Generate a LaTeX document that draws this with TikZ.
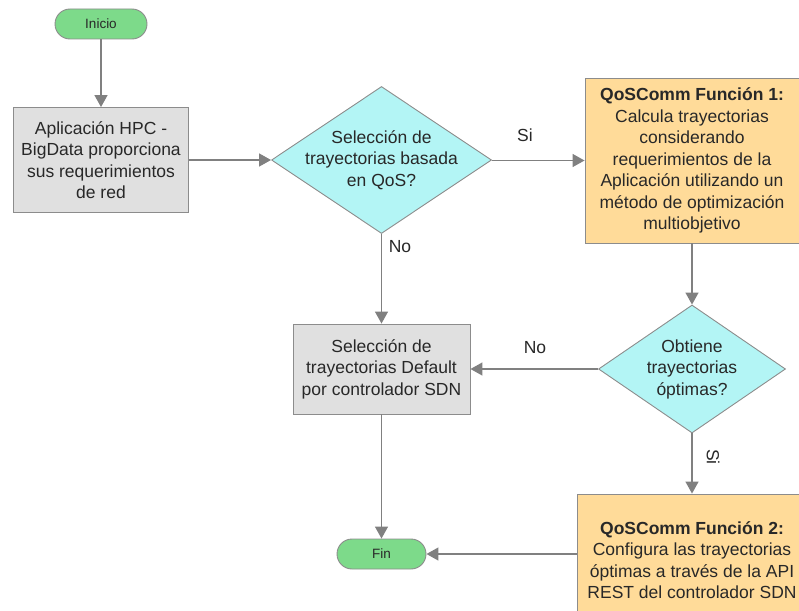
\documentclass[tikz,border=0pt]{standalone}
\usepackage{fontspec}
\setmainfont{Liberation Sans}
\usetikzlibrary{shapes.geometric,arrows.meta}

\definecolor{termfill}{RGB}{125,218,138}
\definecolor{decfill}{RGB}{179,245,245}
\definecolor{procfill}{RGB}{224,224,224}
\definecolor{funcfill}{RGB}{255,219,153}
\definecolor{edge}{RGB}{140,140,140}
\definecolor{flow}{RGB}{128,128,128}
\definecolor{ink}{RGB}{40,40,40}

\tikzset{
  base/.style={draw=edge, line width=0.9pt, text=ink, align=center, inner sep=0pt,
    font=\fontsize{17.5}{21.5}\selectfont},
  term/.style={base, fill=termfill, rounded corners=15pt, minimum width=92pt,
    minimum height=30pt, font=\fontsize{13.5}{15}\selectfont},
  proc/.style={base, fill=procfill, rectangle},
  func/.style={base, fill=funcfill, rectangle},
  decision/.style={base, fill=decfill, diamond},
  caption/.style={text=ink, align=center, inner sep=0pt, font=\fontsize{17.5}{21.5}\selectfont},
  flowarrow/.style={draw=flow, line width=1.4pt, -{Triangle[width=13pt,length=12pt]}},
  branch/.style={text=ink, inner sep=0pt, font=\fontsize{17.5}{20}\selectfont}
}

\begin{document}
\begin{tikzpicture}[x=1pt, y=-1pt]
\useasboundingbox (0,0) rectangle (799,610);

% terminals
\node[term] (inicio) at (101,24) {Inicio};
\node[term, minimum width=89pt] (fin) at (381.5,554) {Fin};

% processes
\node[proc, minimum width=175pt, minimum height=105pt] (app) at (101,160)
  {Aplicación HPC -\\BigData proporciona\\sus requerimientos\\de red};
\node[proc, minimum width=177pt, minimum height=90pt] (def) at (381.5,369)
  {Selección de\\trayectorias Default\\por controlador SDN};

% QoSComm functions
\node[func, minimum width=214pt, minimum height=165pt] (f1) at (692,160.5)
  {\textbf{QoSComm Función 1:}\\Calcula trayectorias\\considerando\\requerimientos de la\\Aplicación utilizando un\\método de optimización\\multiobjetivo};
\node[func, minimum width=230pt, minimum height=132pt] (f2) at (692,560)
  {\textbf{QoSComm Función 2:}\\Configura las trayectorias\\óptimas a través de la API\\REST del controlador SDN};

% decisions
\node[decision, minimum width=220pt, minimum height=147pt] (d1) at (381.5,160) {};
\node[caption] (d1text) at (d1.center) {Selección de\\trayectorias basada\\en QoS?};
\node[decision, minimum width=187pt, minimum height=128pt] (d2) at (692,369) {};
\node[caption] (d2text) at (d2.center) {Obtiene\\trayectorias\\óptimas?};

% connectors
\draw[flowarrow] (inicio.south) -- (app.north);
\draw[flowarrow] (app.east) -- (d1.west);
\draw[flowarrow] (d1.east |- f1.west) -- (f1.west);
\draw[flowarrow] (d1.south) -- (def.north);
\draw[flowarrow] (f1.south) -- (d2.north);
\draw[flowarrow] (d2.west) -- (def.east);
\draw[flowarrow] (d2.south) -- (f2.north);
\draw[flowarrow] (def.south) -- (fin.north);
\draw[flowarrow] (f2.west |- fin.east) -- (fin.east);

% branch labels
\node[branch] (siA) at (525,135) {Si};
\node[branch] (noA) at (400,247) {No};
\node[branch] (noB) at (535,348) {No};
\node[branch, rotate=-90] (siB) at (713,457) {Si};
\end{tikzpicture}
\end{document}
